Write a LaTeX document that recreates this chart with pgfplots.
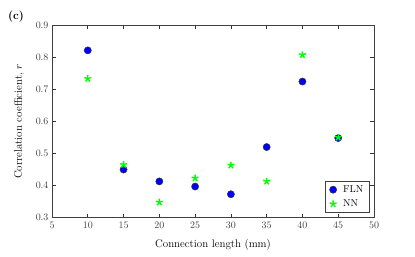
\documentclass[border=0pt]{standalone}
\usepackage{pgfplots}
\pgfplotsset{compat=1.18}
\begin{document}
\begin{tikzpicture}
\begin{axis}[
  scale only axis,
  width=322bp, height=192.7bp,
  xmin=5, xmax=50, ymin=0.3, ymax=0.9,
  xtick={5,10,...,50},
  ytick={0.3,0.4,...,0.9},
  yticklabel style={/pgf/number format/.cd,fixed,fixed zerofill,precision=1},
  tick align=inside,
  major tick length=4bp,
  axis line style={black!75, line width=0.7pt},
  tick style={black!80, line width=0.6pt},
  ticklabel style={font=\fontsize{10}{12}\selectfont, text=black!75},
  xticklabel style={yshift=-1bp},
  xlabel={Connection length (mm)},
  ylabel={Correlation coefficient, $r$},
  label style={font=\fontsize{11}{13}\selectfont},
  xlabel style={yshift=-4bp},
  ylabel style={yshift=5bp},
  legend style={font=\fontsize{10}{12}\selectfont, draw=black!75, line width=0.6pt,
    inner xsep=4pt, inner ysep=3pt, row sep=3pt,
    nodes={inner sep=1.5pt},
    /tikz/every odd column/.append style={column sep=5pt},
    at={(0.985,0.025)}, anchor=south east},
  legend cell align=left,
  clip=false,
]
\addplot[only marks, mark=*, mark size=3.6pt, mark options={fill=blue, draw=black!80, line width=0.5pt}]
  coordinates {(10,0.821) (15,0.450) (20,0.413) (25,0.397) (30,0.373) (35,0.520) (40,0.724) (45,0.548)};
\addlegendentry{FLN}
\addplot[only marks, mark=star, mark size=3.6pt, mark options={draw=green, fill=green, line width=1.4pt}]
  coordinates {(10,0.733) (15,0.465) (20,0.348) (25,0.423) (30,0.463) (35,0.413) (40,0.807) (45,0.550)};
\addlegendentry{NN}
\end{axis}
\node[font=\bfseries\fontsize{11.5}{13}\selectfont, anchor=center] at (-36bp,200.7bp) {(c)};
\path[use as bounding box] (-52bp,-39.3bp) rectangle (363bp,217.7bp);
\end{tikzpicture}
\end{document}
